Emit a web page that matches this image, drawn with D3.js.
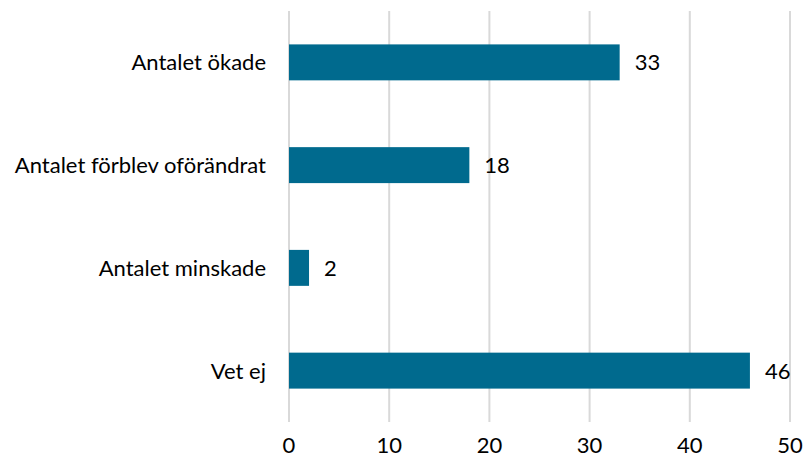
<!DOCTYPE html>
<html>
<head>
<meta charset="utf-8">
<script src="https://cdn.jsdelivr.net/npm/d3@7"></script>
<style>
  body { margin: 0; background: #fff; }
  text { font-family: Lato, sans-serif; fill: #000; }
</style>
</head>
<body>
<svg id="chart"></svg>
<script>
var categories = ["Antalet ökade", "Antalet förblev oförändrat", "Antalet minskade", "Vet ej"]
var values = [33, 18, 2, 46]
var xTicks = [0, 10, 20, 30, 40, 50]

var dimensions = {
    width: 804,
    height: 462,
    margin: { top: 11, bottom: 40, right: 14, left: 289 }
}

var svg = d3.select("#chart")
    .attr("width", dimensions.width)
    .attr("height", dimensions.height)

var xScale = d3.scaleLinear()
    .domain([0, 50])
    .range([dimensions.margin.left, dimensions.width - dimensions.margin.right])

var yScale = d3.scaleBand()
    .domain(categories)
    .range([dimensions.margin.top, dimensions.height - dimensions.margin.bottom])
    .paddingInner(0.65)
    .paddingOuter(0.325)

// gridlines
svg.append("g")
    .selectAll("line")
    .data(xTicks)
    .join("line")
    .attr("x1", d => xScale(d))
    .attr("x2", d => xScale(d))
    .attr("y1", dimensions.margin.top)
    .attr("y2", dimensions.height - dimensions.margin.bottom)
    .attr("stroke", "#d9d9d9")
    .attr("stroke-width", 2)

// x tick labels
svg.append("g")
    .selectAll("text")
    .data(xTicks)
    .join("text")
    .attr("x", d => xScale(d))
    .attr("y", 453)
    .attr("text-anchor", "middle")
    .style("font-size", "22px")
    .text(d => d)

// bars
svg.append("g")
    .selectAll("rect")
    .data(values)
    .join("rect")
    .attr("x", xScale(0))
    .attr("y", (d, i) => yScale(categories[i]))
    .attr("width", d => xScale(d) - xScale(0))
    .attr("height", yScale.bandwidth())
    .attr("fill", "#006a8e")

// value labels
svg.append("g")
    .selectAll("text")
    .data(values)
    .join("text")
    .attr("x", d => xScale(d) + 15)
    .attr("y", (d, i) => yScale(categories[i]) + yScale.bandwidth() / 2)
    .attr("dy", "0.36em")
    .style("font-size", "22px")
    .text(d => d)

// category labels
svg.append("g")
    .selectAll("text")
    .data(categories)
    .join("text")
    .attr("x", 266)
    .attr("y", d => yScale(d) + yScale.bandwidth() / 2)
    .attr("dy", "0.36em")
    .attr("text-anchor", "end")
    .style("font-size", "22px")
    .text(d => d)
</script>
</body>
</html>
